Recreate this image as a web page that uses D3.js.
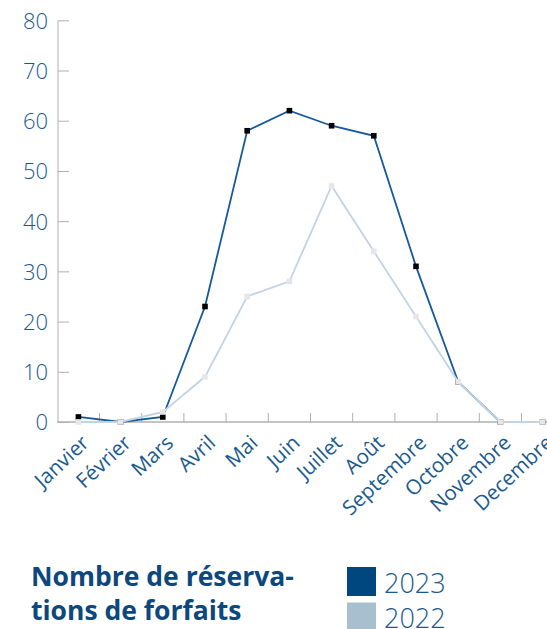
<!DOCTYPE html>
<html>
<head>
<meta charset="utf-8">
<script src="https://cdn.jsdelivr.net/npm/d3@7"></script>
<style>
  body { margin: 0; background: #fff; }
  .tick text { font-family: "Open Sans", sans-serif; fill: #1b5a8e; }
</style>
</head>
<body>
<div id="chart"></div>
<script>
// Data
let months = ["Janvier", "Février", "Mars", "Avril", "Mai", "Juin", "Juillet",
  "Août", "Septembre", "Octobre", "Novembre", "Decembre"];
let values2023 = [1, 0, 1, 23, 58, 62, 59, 57, 31, 8, 0, 0];
let values2022 = [0, 0, 2, 9, 25, 28, 47, 34, 21, 8, 0, 0];
let yTicks = [0, 10, 20, 30, 40, 50, 60, 70, 80];
let legendYears = ["2023", "2022"];

let width = 547, height = 629;
let axisColor = "#b0b0b0";
let textColor = "#1b5a8e";

let svg = d3
  .select("#chart")
  .append("svg")
  .attr("width", width)
  .attr("height", height);

// Scales
let x = d3.scaleBand().domain(months).range([57.3, 563.7]);
let y = d3.scaleLinear().domain([0, 80]).range([422, 20.3]);
let cx = (d, i) => x(months[i]) + x.bandwidth() / 2;

// y-axis
let yAxisEl = svg.append("g").attr("transform", "translate(58,0)");
yAxisEl.call(d3.axisRight(y).tickValues(yTicks).tickSize(11).tickFormat(d3.format("d")));
yAxisEl.select(".domain").attr("stroke", axisColor).attr("d", "M0," + y(80) + "V" + y(0));
yAxisEl.selectAll(".tick line").attr("stroke", axisColor);
yAxisEl.selectAll(".tick text")
  .attr("x", -10)
  .attr("text-anchor", "end")
  .attr("dy", "0.36em")
  .style("font-size", "22px")
  .style("font-weight", 300);

// x-axis: line plus ticks at band boundaries
let xAxisEl = svg.append("g").attr("transform", "translate(0," + y(0) + ")");
xAxisEl.append("line")
  .attr("x1", 57).attr("x2", width)
  .attr("stroke", axisColor).attr("stroke-width", 1.5);
xAxisEl.selectAll("line.bound")
  .data(months.slice(1))
  .join("line")
  .attr("class", "bound")
  .attr("x1", (d) => x(d)).attr("x2", (d) => x(d))
  .attr("y1", 0).attr("y2", -9)
  .attr("stroke", axisColor);
xAxisEl.selectAll("text.month")
  .data(months)
  .join("text")
  .attr("class", "month")
  .attr("transform", (d) => "translate(" + (x(d) + x.bandwidth() / 2 + 2) + ",12) rotate(-43)")
  .attr("text-anchor", "end")
  .attr("dy", "0.7em")
  .attr("fill", textColor)
  .style("font-family", "'Open Sans', sans-serif")
  .style("font-size", "20.5px")
  .style("font-weight", 400)
  .text((d) => d);

// Lines
let line = d3.line().x(cx).y((d) => y(d));

function drawSeries(vals, stroke, marker) {
  let g = svg.append("g");
  g.append("path")
    .datum(vals)
    .attr("fill", "none")
    .attr("stroke", stroke)
    .attr("stroke-width", 1.8)
    .attr("d", line);
  g.selectAll("rect")
    .data(vals)
    .join("rect")
    .attr("x", (d, i) => cx(d, i) - 2.8)
    .attr("y", (d) => y(d) - 2.8)
    .attr("width", 5.6)
    .attr("height", 5.6)
    .attr("fill", marker);
}
drawSeries(values2023, "#15599a", "#000");
drawSeries(values2022, "#c3d3e6", "#e6e6e6");

// Legend title
let title = svg.append("text")
  .attr("x", 31)
  .attr("y", 586)
  .attr("fill", "#0c477d")
  .style("font-family", "'Open Sans', sans-serif")
  .style("font-size", "26.5px")
  .style("font-weight", 700);
title.append("tspan").attr("x", 31).text("Nombre de réserva-");
title.append("tspan").attr("x", 31).attr("dy", 34).text("tions de forfaits");

// Legend items
let legendColors = ["#00467f", "#a8bfcf"];
let leg = svg.append("g")
  .selectAll("g")
  .data(legendYears)
  .join("g")
  .attr("transform", (d, i) => "translate(347," + (567 + i * 35.5) + ")");
leg.append("rect")
  .attr("width", 29)
  .attr("height", 29)
  .attr("fill", (d, i) => legendColors[i]);
leg.append("text")
  .attr("x", 37)
  .attr("y", 25.5)
  .attr("fill", textColor)
  .style("font-family", "'Open Sans', sans-serif")
  .style("font-size", "27px")
  .style("font-weight", 300)
  .text((d) => d);
</script>
</body>
</html>
